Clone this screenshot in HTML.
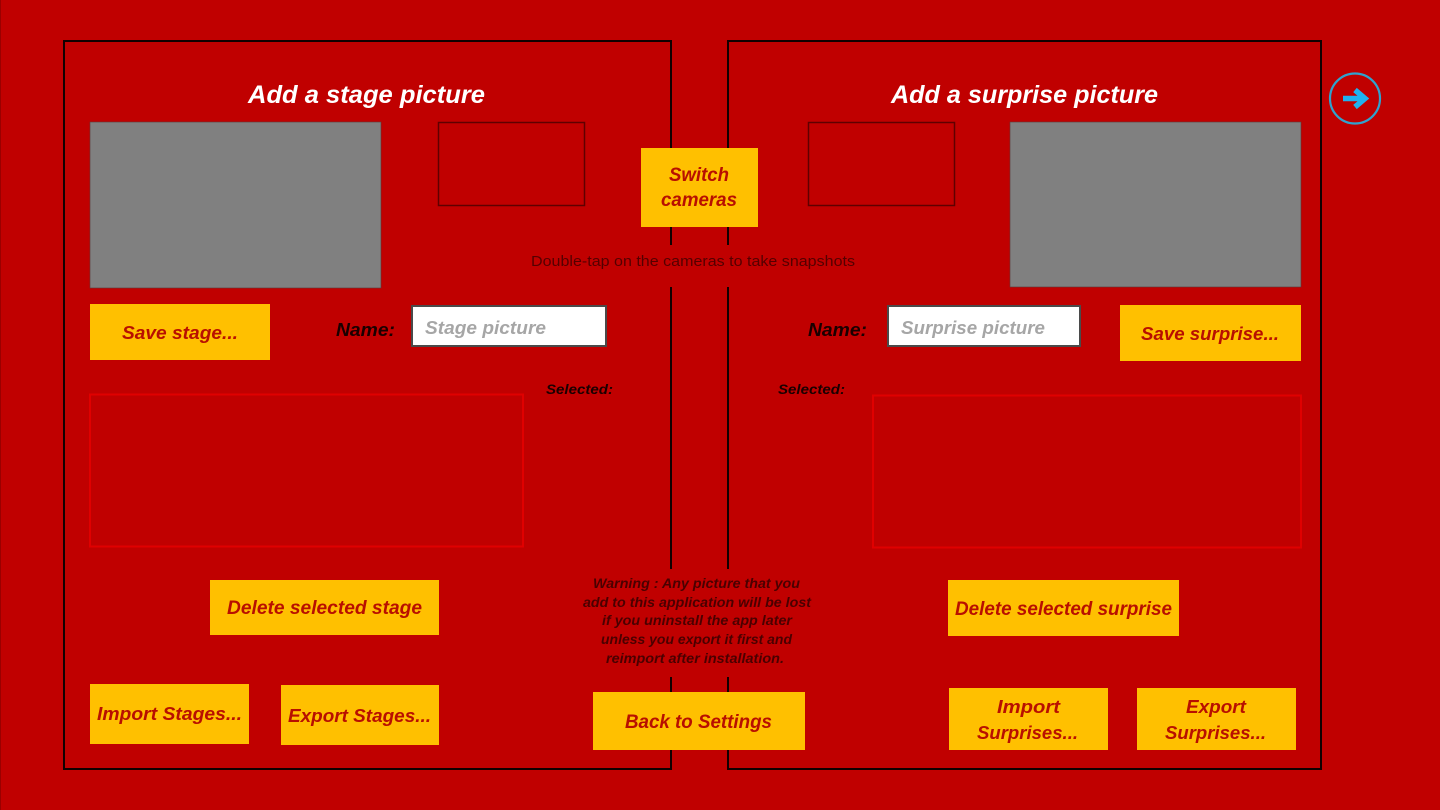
<!DOCTYPE html>
<html>
<head>
<meta charset="utf-8">
<style>
html,body{margin:0;padding:0;width:1440px;height:810px;overflow:hidden;background:#c00000}
svg{display:block}
text{font-family:"Liberation Sans",sans-serif;font-weight:bold;font-style:italic}
.b{fill:#b80f00}
.k{fill:#1a0000}
</style>
</head>
<body>
<svg width="1440" height="810" viewBox="0 0 1440 810" xmlns="http://www.w3.org/2000/svg">
<rect width="1440" height="810" fill="#c00000"/>
<rect x="0" y="0" width="1" height="810" fill="#9a0000"/>

<!-- panels -->
<rect x="64" y="41" width="607" height="728" fill="none" stroke="#120000" stroke-width="2"/>
<rect x="728" y="41" width="593" height="728" fill="none" stroke="#120000" stroke-width="2"/>

<!-- gaps in panel borders -->
<rect x="525" y="245" width="340" height="42" fill="#c00000"/>
<rect x="580" y="569" width="235" height="108" fill="#c00000"/>

<!-- titles -->
<text x="248" y="103" font-size="25" fill="#fff" textLength="237" lengthAdjust="spacingAndGlyphs">Add a stage picture</text>
<text x="891" y="103" font-size="25" fill="#fff" textLength="267" lengthAdjust="spacingAndGlyphs">Add a surprise picture</text>

<!-- camera areas -->
<rect x="90" y="122" width="291" height="166" fill="#808080" stroke="#5c3a3a" stroke-width="0.600"/>
<rect x="1010" y="122" width="291" height="165" fill="#808080" stroke="#5c3a3a" stroke-width="0.600"/>
<rect x="438.500" y="122.500" width="146" height="83" fill="none" stroke="#5e0000" stroke-width="1.500"/>
<rect x="808.500" y="122.500" width="146" height="83" fill="none" stroke="#5e0000" stroke-width="1.500"/>

<!-- switch cameras -->
<rect x="641" y="148" width="117" height="79" fill="#ffc000"/>
<text x="669" y="181" font-size="19" class="b" textLength="60" lengthAdjust="spacingAndGlyphs">Switch</text>
<text x="661" y="206" font-size="19" class="b" textLength="76" lengthAdjust="spacingAndGlyphs">cameras</text>

<text x="531" y="266" font-size="15" fill="#540000" style="font-style:normal;font-weight:normal" textLength="324" lengthAdjust="spacingAndGlyphs">Double-tap on the cameras to take snapshots</text>

<!-- save row left -->
<rect x="90" y="304" width="180" height="56" fill="#ffc000"/>
<text x="122" y="339" font-size="18" class="b" textLength="116" lengthAdjust="spacingAndGlyphs">Save stage...</text>
<text x="336" y="336" font-size="18" class="k" textLength="59" lengthAdjust="spacingAndGlyphs">Name:</text>
<rect x="412" y="306" width="194" height="40" fill="#fff" stroke="#4a4a4a" stroke-width="2"/>
<text x="425" y="334" font-size="18" fill="#a6a6a6" textLength="121" lengthAdjust="spacingAndGlyphs">Stage picture</text>

<!-- save row right -->
<text x="808" y="336" font-size="18" class="k" textLength="59" lengthAdjust="spacingAndGlyphs">Name:</text>
<rect x="888" y="306" width="192" height="40" fill="#fff" stroke="#4a4a4a" stroke-width="2"/>
<text x="901" y="334" font-size="18" fill="#a6a6a6" textLength="144" lengthAdjust="spacingAndGlyphs">Surprise picture</text>
<rect x="1120" y="305" width="181" height="56" fill="#ffc000"/>
<text x="1141" y="340" font-size="18" class="b" textLength="138" lengthAdjust="spacingAndGlyphs">Save surprise...</text>

<!-- selected -->
<text x="546" y="394" font-size="14" class="k" textLength="67" lengthAdjust="spacingAndGlyphs">Selected:</text>
<text x="778" y="394" font-size="14" class="k" textLength="67" lengthAdjust="spacingAndGlyphs">Selected:</text>

<!-- lists -->
<rect x="90" y="394.500" width="433" height="152" fill="none" stroke="#e00000" stroke-width="2"/>
<rect x="873" y="395.500" width="428" height="152" fill="none" stroke="#e00000" stroke-width="2"/>

<!-- delete buttons -->
<rect x="210" y="580" width="229" height="55" fill="#ffc000"/>
<text x="227" y="614" font-size="19" class="b" textLength="195" lengthAdjust="spacingAndGlyphs">Delete selected stage</text>
<rect x="948" y="580" width="231" height="56" fill="#ffc000"/>
<text x="955" y="615" font-size="19" class="b" textLength="217" lengthAdjust="spacingAndGlyphs">Delete selected surprise</text>

<!-- warning -->
<g font-size="14" fill="#4a0000">
<text x="593" y="588" textLength="207" lengthAdjust="spacingAndGlyphs">Warning : Any picture that you</text>
<text x="583" y="607" textLength="228" lengthAdjust="spacingAndGlyphs">add to this application will be lost</text>
<text x="602" y="625" textLength="190" lengthAdjust="spacingAndGlyphs">if you uninstall the app later</text>
<text x="601" y="644" textLength="191" lengthAdjust="spacingAndGlyphs">unless you export it first and</text>
<text x="606" y="663" textLength="178" lengthAdjust="spacingAndGlyphs">reimport after installation.</text>
</g>

<!-- bottom buttons -->
<rect x="90" y="684" width="159" height="60" fill="#ffc000"/>
<text x="97" y="720" font-size="18" class="b" textLength="145" lengthAdjust="spacingAndGlyphs">Import Stages...</text>
<rect x="281" y="685" width="158" height="60" fill="#ffc000"/>
<text x="288" y="722" font-size="18" class="b" textLength="143" lengthAdjust="spacingAndGlyphs">Export Stages...</text>
<rect x="593" y="692" width="212" height="58" fill="#ffc000"/>
<text x="625" y="728" font-size="19" class="b" textLength="147" lengthAdjust="spacingAndGlyphs">Back to Settings</text>
<rect x="949" y="688" width="159" height="62" fill="#ffc000"/>
<text x="997" y="713" font-size="18" class="b" textLength="63" lengthAdjust="spacingAndGlyphs">Import</text>
<text x="977" y="739" font-size="18" class="b" textLength="101" lengthAdjust="spacingAndGlyphs">Surprises...</text>
<rect x="1137" y="688" width="159" height="62" fill="#ffc000"/>
<text x="1186" y="713" font-size="18" class="b" textLength="60" lengthAdjust="spacingAndGlyphs">Export</text>
<text x="1165" y="739" font-size="18" class="b" textLength="101" lengthAdjust="spacingAndGlyphs">Surprises...</text>

<!-- next arrow -->
<circle cx="1355" cy="98.500" r="25" fill="none" stroke="#2fa3cf" stroke-width="2.200"/>
<path d="M1343 98.500H1365M1355 90L1365 98.500L1355 107" fill="none" stroke="#1fb2f0" stroke-width="5.500"/>
</svg>
</body>
</html>
